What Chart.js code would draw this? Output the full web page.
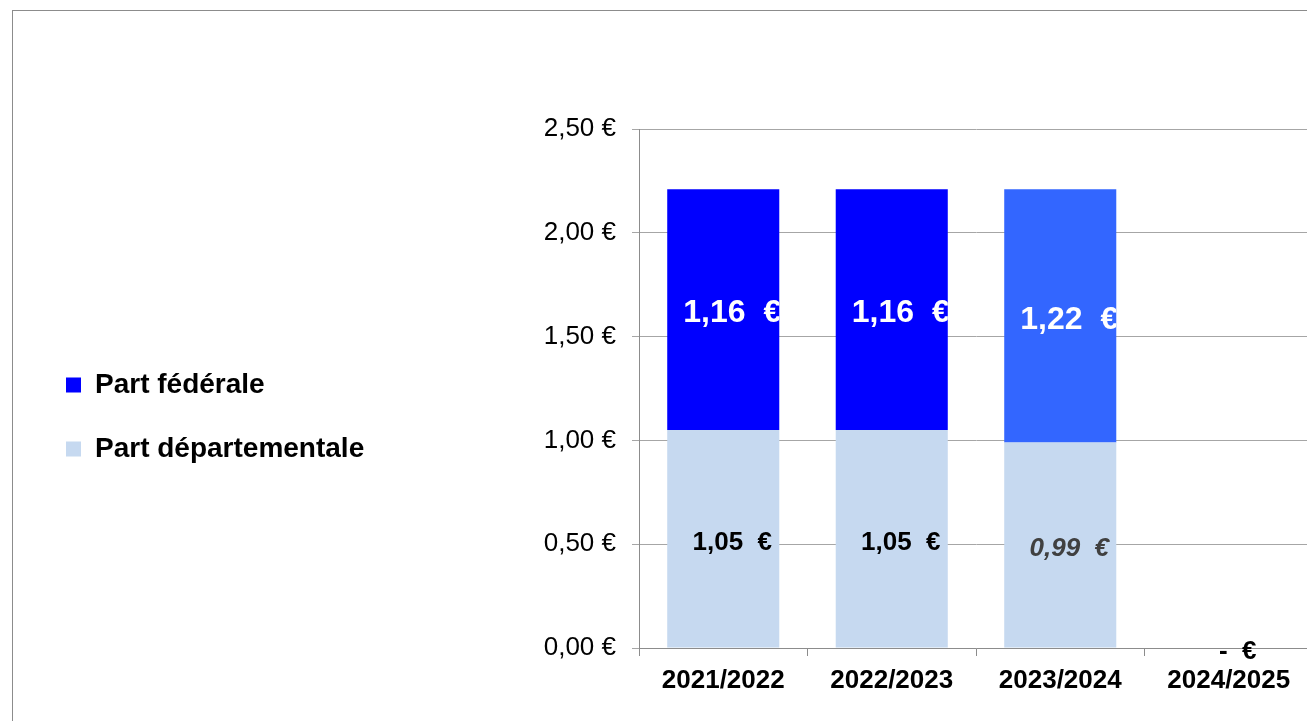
<!DOCTYPE html>
<html>
<head>
<meta charset="utf-8">
<script src="https://cdn.jsdelivr.net/npm/chart.js@4.4.1/dist/chart.umd.min.js"></script>
<style>
  html, body { margin: 0; padding: 0; background: #fff; overflow: hidden; }
  #wrap { position: relative; width: 1307px; height: 721px; overflow: hidden; }
  #frame { position: absolute; left: 12px; top: 10px; right: -5px; bottom: -5px;
           border-top: 1px solid #8c8c8c; border-left: 1px solid #8c8c8c; }
  canvas { position: absolute; left: 0; top: 0; }
</style>
</head>
<body>
<div id="wrap">
  <div id="frame"></div>
  <!-- canvas is wider than the window: the plot runs past the right edge in the original -->
  <canvas id="chart" width="1330" height="721"></canvas>
</div>
<script>
// data
const categories = ["2021/2022", "2022/2023", "2023/2024", "2024/2025"];
const partDepartementale = [1.05, 1.05, 0.99, 0];
const partFederale = [1.16, 1.16, 1.22, 0];
const yMin = 0;
const yMax = 2.5;
const yStep = 0.5;

const FONT = "'Liberation Sans', Arial, sans-serif";

function money(v) {
  return v.toFixed(2).replace(".", ",");
}

// bar label: "1,16  €", zero shown as a dash
function barText(v) {
  return (v === 0 ? "-" : money(v)) + "  €";
}

// labels inside the bars, clipped to the bar width like the original
const barLabels = {
  id: "barLabels",
  afterDatasetsDraw(chart) {
    const ctx = chart.ctx;
    chart.data.datasets.forEach((ds, di) => {
      const meta = chart.getDatasetMeta(di);
      meta.data.forEach((bar, i) => {
        const v = ds.data[i];
        if (v === 0 && !ds.showZero) return;
        const st = ds.labelStyle(i);
        const { x, y, base, width } = bar.getProps(["x", "y", "base", "width"], true);
        ctx.save();
        ctx.beginPath();
        ctx.rect(x - width / 2, 0, width, chart.height);
        ctx.clip();
        ctx.font = st.font;
        ctx.fillStyle = st.color;
        ctx.textAlign = "center";
        ctx.textBaseline = "middle";
        ctx.fillText(barText(v), x + 9, (y + base) / 2 + 4);
        ctx.restore();
      });
    });
  },
};

const ctx = document.getElementById("chart");

new Chart(ctx, {
  type: "bar",
  data: {
    labels: categories,
    datasets: [
      {
        label: "Part départementale",
        data: partDepartementale,
        backgroundColor: "#c6d9f0",
        borderWidth: 0,
        barPercentage: 0.665,
        categoryPercentage: 1,
        showZero: true,
        labelStyle: (i) =>
          i === 2
            ? { font: "italic bold 26px " + FONT, color: "#404040" }
            : { font: "bold 26px " + FONT, color: "#000" },
      },
      {
        label: "Part fédérale",
        data: partFederale,
        backgroundColor: ["#0000ff", "#0000ff", "#3366ff", "#3366ff"],
        borderWidth: 0,
        barPercentage: 0.665,
        categoryPercentage: 1,
        labelStyle: () => ({ font: "bold 32px " + FONT, color: "#fff" }),
      },
    ],
  },
  options: {
    responsive: false,
    animation: false,
    events: [],
    layout: { padding: { left: 30, top: 129, right: 17, bottom: 16 } },
    plugins: {
      legend: {
        position: "left",
        reverse: true,
        maxWidth: 420,
        labels: {
          color: "#000",
          boxWidth: 15,
          boxHeight: 15,
          padding: 36,
          font: { family: FONT, size: 28, weight: "bold" },
        },
      },
      tooltip: { enabled: false },
    },
    scales: {
      x: {
        stacked: true,
        grid: { drawOnChartArea: false, tickLength: 8, color: "#8c8c8c" },
        border: { color: "#8c8c8c" },
        ticks: {
          color: "#000",
          padding: 9,
          font: { family: FONT, size: 26, weight: "bold" },
        },
        afterFit: (scale) => {
          scale.height = 57;
        },
      },
      y: {
        stacked: true,
        min: yMin,
        max: yMax,
        grid: { color: "#a6a6a6", tickLength: 7 },
        border: { color: "#8c8c8c" },
        ticks: {
          stepSize: yStep,
          color: "#000",
          padding: 16,
          font: { family: FONT, size: 26 },
          callback: (v) => money(v) + " €",
        },
        afterFit: (scale) => {
          // plot area starts at x=639 in the original
          scale.width = 639 - 30 - scale.chart.legend.width;
        },
      },
    },
  },
  plugins: [barLabels],
});
</script>
</body>
</html>
